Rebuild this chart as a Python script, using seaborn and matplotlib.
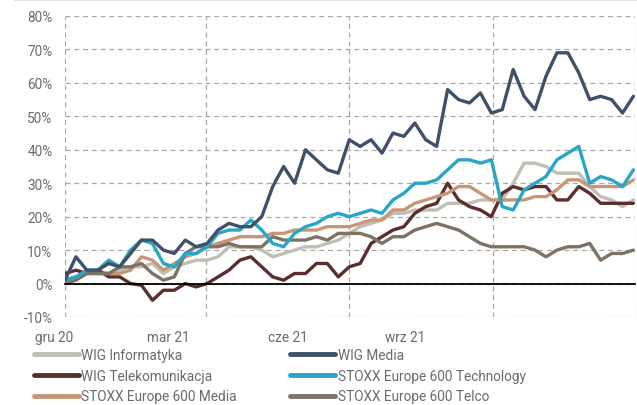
import pandas as pd
import matplotlib.pyplot as plt
from matplotlib.lines import Line2D
from matplotlib.patches import Rectangle
import seaborn as sb

# weekly points, Dec 2020 - Nov 2021 (% change)
dates = pd.date_range("2020-12-01", periods=53, freq="7D")

wig_informatyka = [1, 2, 3, 4, 3, 4, 5, 5, 6, 3, 5, 6, 7, 7, 8, 11, 11, 11, 10, 8,
                   9, 10, 11, 11, 12, 13, 15, 17, 18, 19, 21, 21, 22, 22, 22, 24, 24, 24, 25, 25,
                   25, 30, 36, 36, 35, 33, 33, 33, 29, 26, 25, 23, 25]
wig_media = [1, 8, 4, 4, 6, 5, 9, 13, 13, 10, 9, 13, 11, 12, 16, 18, 17, 17, 20, 29,
             35, 30, 40, 37, 34, 33, 43, 41, 43, 39, 45, 44, 48, 43, 41, 58, 55, 54, 57, 51,
             52, 64, 56, 52, 62, 69, 69, 63, 55, 56, 55, 51, 56]
wig_telekom = [3, 4, 3, 4, 2, 2, 0, -0.5, -5, -2, -2, 0, -1, 0, 2, 4, 7, 8, 5, 2,
               1, 3, 3, 6, 6, 2, 5, 6, 12, 14, 16, 17, 21, 23, 24, 30, 25, 23, 22, 20,
               27, 29, 28, 29, 29, 25, 25, 29, 27, 24, 24, 24, 24]
stoxx_tech = [1, 2, 4, 4, 7, 5, 10, 13, 12, 6, 5, 9, 9, 11, 15, 16, 16, 19, 16, 12,
              11, 15, 17, 18, 20, 21, 20, 21, 22, 21, 25, 27, 30, 30, 31, 34, 37, 37, 36, 37,
              23, 22, 28, 30, 32, 37, 39, 41, 30, 32, 31, 29, 34]
stoxx_media = [1, 2, 3, 3, 3, 3, 4, 8, 7, 4, 6, 8, 9, 11, 12, 13, 14, 14, 14, 15,
               15, 16, 16, 16, 17, 17, 17, 18, 19, 19, 22, 22, 24, 25, 26, 27, 29, 29, 27, 25,
               25, 25, 25, 26, 26, 28, 31, 31, 29, 29, 29, 29, 31]
stoxx_telco = [0, 1, 3, 3, 3, 5, 5, 6, 3, 1, 2, 9, 11, 11, 11, 12, 11, 11, 11, 14,
               13, 13, 13, 14, 13, 15, 15, 15, 14, 12, 14, 14, 16, 17, 18, 17, 16, 14, 12, 11,
               11, 11, 11, 10, 8, 10, 11, 11, 12, 7, 9, 9, 10]

series_names = ["WIG Informatyka", "WIG Telekomunikacja", "STOXX Europe 600 Media",
                "WIG Media", "STOXX Europe 600 Technology", "STOXX Europe 600 Telco"]
series_colors = ["#c0bfb3", "#5c2e2b", "#c89677", "#3f5069", "#27a6c7", "#7e7265"]

quarter_ticks = pd.to_datetime(["2020-12-01", "2021-03-01", "2021-06-01", "2021-09-01", "2021-12-01"])
x_labels = ["gru 20", "mar 21", "cze 21", "wrz 21"]
x_label_pos = [-0.019, 0.182, 0.391, 0.596]

df = pd.DataFrame({
    "WIG Informatyka": wig_informatyka,
    "WIG Telekomunikacja": wig_telekom,
    "STOXX Europe 600 Media": stoxx_media,
    "STOXX Europe 600 Telco": stoxx_telco,
    "STOXX Europe 600 Technology": stoxx_tech,
    "WIG Media": wig_media,
}, index=dates)
long_df = df.reset_index(names="date").melt(id_vars="date", var_name="series", value_name="value")

sb.set_style("white")
plt.rcParams["font.family"] = ["Roboto", "DejaVu Sans"]
text_color = "#6b6b6b"
fsize = 9.8

fig = plt.figure(figsize=(6.37, 4.06), dpi=100)
ax = fig.add_axes([65 / 637, 1 - 318 / 406, 570 / 637, 301 / 406])

palette = dict(zip(series_names, series_colors))
sb.lineplot(data=long_df, x="date", y="value", hue="series", hue_order=list(df.columns),
            palette=palette, linewidth=2.4, legend=False, ax=ax)

# axes
ax.set_xlim(quarter_ticks[0], quarter_ticks[-1])
ax.set_ylim(-10, 80)
ax.set_yticks(range(-10, 81, 10))
ax.set_yticklabels([f"{v}%" for v in range(-10, 81, 10)])
ax.set_xticks(quarter_ticks)
ax.set_xlabel("")
ax.set_ylabel("")
ax.grid(True, linestyle=(0, (4, 3)), color="#a8a8a8", linewidth=0.9)
ax.set_axisbelow(True)
for side in ["top", "right", "left"]:
    ax.spines[side].set_visible(False)
ax.spines["bottom"].set_position(("data", 0))
ax.spines["bottom"].set_color("black")
ax.spines["bottom"].set_linewidth(1.3)
ax.tick_params(axis="x", direction="out", length=3, width=1.3, color="black", labelbottom=False)
ax.tick_params(axis="y", length=0, pad=9, labelsize=fsize, labelcolor=text_color)

for lab, pos in zip(x_labels, x_label_pos):
    ax.text(pos, -0.066, lab, transform=ax.transAxes, ha="center", va="center",
            fontsize=fsize, color=text_color)

# legend
handles = [Line2D([0], [0], color=c, linewidth=3.5, solid_capstyle="round") for c in series_colors]
fig.legend(handles, series_names, ncol=2, loc="upper left", bbox_to_anchor=(27 / 637, 1 - 342 / 406),
           frameon=False, fontsize=fsize, labelcolor=text_color, handlelength=3.3,
           handletextpad=0.2, columnspacing=3.9, labelspacing=0.5, borderpad=0)

# thin band at the top
fig.add_artist(Rectangle((14 / 637, 1 - 2 / 406), 623 / 637, 2 / 406, transform=fig.transFigure,
                         color="#dce5e9", linewidth=0))

fig.savefig("out.png", dpi=100)
plt.close(fig)
